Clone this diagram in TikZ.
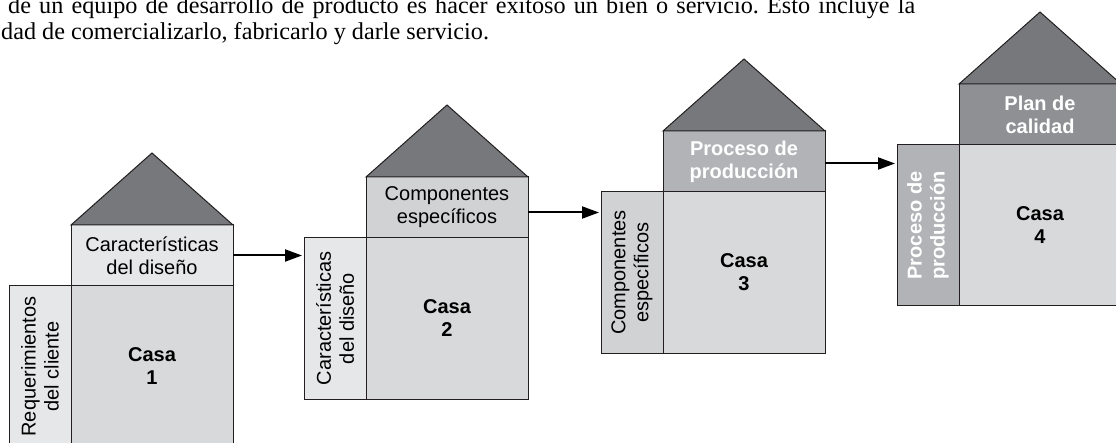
\documentclass[tikz,border=0pt]{standalone}
\usepackage{fontspec}
\setmainfont{Liberation Serif}
\setsansfont{Liberation Sans}
\usetikzlibrary{arrows.meta,positioning}
\definecolor{roofgray}{HTML}{77787B}
\definecolor{edgegray}{HTML}{231F20}
\definecolor{palegray}{HTML}{E6E7E8}
\definecolor{casagray}{HTML}{D8D9DA}
\definecolor{midgray}{HTML}{D1D2D4}
\definecolor{darkgray}{HTML}{B1B3B6}
\definecolor{deepgray}{HTML}{8E9093}
\tikzstyle{arrow} = [line width=2pt, -{Triangle[length=17pt,width=12pt]}, shorten >=2pt]
\tikzstyle{roof} = [fill=roofgray, draw=edgegray, line width=1pt, line join=miter]
\tikzstyle{topbox} = [draw=edgegray, line width=1pt, minimum width=162pt,
  minimum height=61pt, inner sep=0pt, outer sep=0pt, align=center,
  font=\sffamily\fontsize{20}{23}\selectfont]
\tikzstyle{casabox} = [draw=edgegray, line width=1pt, fill=casagray, minimum width=162pt,
  minimum height=161pt, inner sep=0pt, outer sep=0pt, align=center,
  font=\sffamily\bfseries\fontsize{20}{23}\selectfont]
\tikzstyle{sidebox} = [draw=edgegray, line width=1pt, rotate=90, anchor=south east,
  minimum width=161pt, minimum height=62pt, inner sep=0pt, outer sep=0pt,
  align=center, font=\sffamily\fontsize{20}{23}\selectfont]
\tikzstyle{whitetext} = [text=white, font=\sffamily\bfseries\fontsize{20}{23}\selectfont]
\tikzstyle{para} = [anchor=base west, inner sep=0pt,
  font=\rmfamily\fontsize{24.2}{26}\selectfont\frenchspacing]

\begin{document}
\begin{tikzpicture}[x=1pt, y=1pt]
    \useasboundingbox (0,0) rectangle (1116,442);
    \clip (0,0) rectangle (1116,442);

    % text above the figure
    \node[para] (line1) at (8,428.7)
        {\makebox[907pt][s]{de un equipo de desarrollo de producto es hacer exitoso un bien o servicio. Esto incluye la}};
    \node[para] (line2) at (1,402.7)
        {dad de comercializarlo, fabricarlo y darle servicio.};

    % casa 1
    \node[topbox, fill=palegray, anchor=north west] (top1) at (71,217)
        {Características\\del diseño};
    \node[casabox, below=0pt of top1] (casa1) {Casa\\1};
    \node[sidebox, fill=palegray] (side1) at (casa1.north west)
        {Requerimientos\\del cliente};
    \draw[roof] (top1.north west) -- ([yshift=72pt]top1.north) -- (top1.north east) -- cycle;

    % casa 2
    \node[topbox, fill=midgray, anchor=north west] (top2) at (366,265)
        {Componentes\\específicos};
    \node[casabox, below=0pt of top2] (casa2) {Casa\\2};
    \node[sidebox, fill=palegray] (side2) at (casa2.north west)
        {Características\\del diseño};
    \draw[roof] (top2.north west) -- ([yshift=72pt]top2.north) -- (top2.north east) -- cycle;

    % casa 3
    \node[topbox, fill=darkgray, whitetext, anchor=north west] (top3) at (663,311)
        {Proceso de\\producción};
    \node[casabox, below=0pt of top3] (casa3) {Casa\\3};
    \node[sidebox, fill=midgray] (side3) at (casa3.north west)
        {Componentes\\específicos};
    \draw[roof] (top3.north west) -- ([yshift=72pt]top3.north) -- (top3.north east) -- cycle;

    % casa 4
    \node[topbox, fill=deepgray, whitetext, anchor=north west] (top4) at (959,358)
        {Plan de\\calidad};
    \node[casabox, below=0pt of top4] (casa4) {Casa\\4};
    \node[sidebox, fill=darkgray, whitetext] (side4) at (casa4.north west)
        {Proceso de\\producción};
    \draw[roof] (top4.north west) -- ([yshift=72pt]top4.north) -- (top4.north east) -- cycle;

    % flechas
    \draw[arrow] (top1.east) -- (top1.east -| side2.north);
    \draw[arrow] ([yshift=-5pt]top2.east) -- ([yshift=-5pt]top2.east -| side3.north);
    \draw[arrow] ([yshift=-2pt]top3.east) -- ([yshift=-2pt]top3.east -| side4.north);
\end{tikzpicture}
\end{document}
